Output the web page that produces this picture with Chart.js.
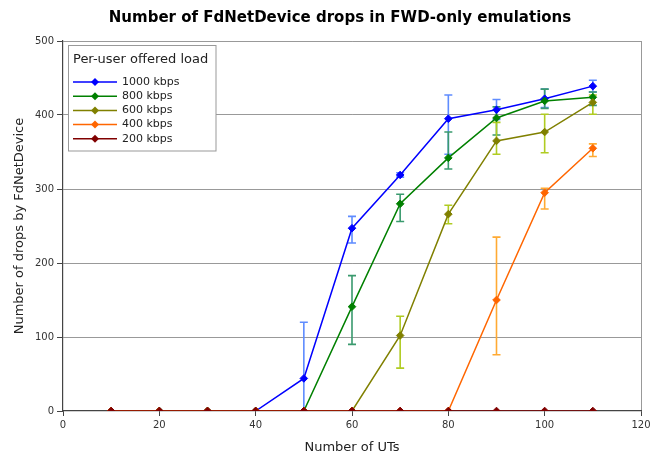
<!DOCTYPE html>
<html>
<head>
<meta charset="utf-8">
<script src="https://cdn.jsdelivr.net/npm/chart.js@4"></script>
<style>
  html, body { margin: 0; padding: 0; background: #fff; }
  #wrap { width: 665px; height: 456px; }
</style>
</head>
<body>
<div id="wrap"><canvas id="drops" width="665" height="456"></canvas></div>
<script>
const chartTitle = 'Number of FdNetDevice drops in FWD-only emulations';
const legendTitle = 'Per-user offered load';
const utCounts = [10, 20, 30, 40, 50, 60, 70, 80, 90, 100, 110];
const loadLabels = ['1000 kbps', '800 kbps', '600 kbps', '400 kbps', '200 kbps'];

// mean drops per offered load
const drops1000 = [0, 0, 0, 0, 44, 247, 319, 395, 407, 422, 439];
const drops800 = [0, 0, 0, 0, 0, 141, 280, 342, 396, 419, 424];
const drops600 = [0, 0, 0, 0, 0, 0, 102, 266, 365, 377, 417];
const drops400 = [0, 0, 0, 0, 0, 0, 0, 0, 150, 295, 355];
const drops200 = [0, 0, 0, 0, 0, 0, 0, 0, 0, 0, 0];

// error bar bounds (null = no bar)
const low1000 = [null, null, null, null, 0, 227, 316, 347, 394, 410, 431];
const high1000 = [null, null, null, null, 120, 263, 322, 427, 421, 435, 447];
const low800 = [null, null, null, null, null, 90, 256, 327, 373, 409, 413];
const high800 = [null, null, null, null, null, 183, 293, 377, 411, 435, 431];
const low600 = [null, null, null, null, null, null, 58, 253, 347, 349, 401];
const high600 = [null, null, null, null, null, null, 128, 278, 390, 401, 427];
const low400 = [null, null, null, null, null, null, null, null, 76, 273, 344];
const high400 = [null, null, null, null, null, null, null, null, 235, 301, 361];

const lineColors = ['#0000ff', '#008000', '#808000', '#ff6600', '#800000'];
const errColors = ['#5f8cff', '#3a9a6e', '#b0cc22', '#ffaa33', '#800000'];

const allDrops = [drops1000, drops800, drops600, drops400, drops200];
const allLow = [low1000, low800, low600, low400, null];
const allHigh = [high1000, high800, high600, high400, null];

const datasets = allDrops.map((vals, i) => ({
    label: loadLabels[i],
    data: utCounts.map((x, j) => ({ x: x, y: vals[j] })),
    borderColor: lineColors[i],
    backgroundColor: lineColors[i],
    borderWidth: 1.5,
    pointStyle: 'rectRot',
    pointRadius: 3.8,
    pointBorderWidth: 1,
    tension: 0,
    order: 4 - i,
    errLow: allLow[i],
    errHigh: allHigh[i]
}));

// vertical error bars with caps, drawn under the lines
const errorBars = {
    id: 'errorBars',
    beforeDatasetsDraw(chart) {
        const ctx = chart.ctx;
        const xs = chart.scales.x, ys = chart.scales.y;
        const area = chart.chartArea;
        ctx.save();
        ctx.beginPath();
        ctx.rect(area.left, area.top - 10, area.right - area.left, area.bottom - area.top + 10);
        ctx.clip();
        chart.data.datasets.forEach((ds, i) => {
            if (!ds.errLow) return;
            ctx.strokeStyle = errColors[i];
            ctx.lineWidth = 1.6;
            utCounts.forEach((x, j) => {
                if (ds.errLow[j] === null) return;
                const px = xs.getPixelForValue(x);
                const pl = ys.getPixelForValue(ds.errLow[j]);
                const ph = ys.getPixelForValue(ds.errHigh[j]);
                ctx.beginPath();
                ctx.moveTo(px, pl); ctx.lineTo(px, ph);
                ctx.moveTo(px - 4, ph); ctx.lineTo(px + 4, ph);
                ctx.moveTo(px - 4, pl); ctx.lineTo(px + 4, pl);
                ctx.stroke();
            });
        });
        ctx.restore();
    }
};

// chart title and boxed legend inside the plot area
const decorations = {
    id: 'decorations',
    afterDraw(chart) {
        const ctx = chart.ctx;
        ctx.save();
        ctx.fillStyle = '#000';
        ctx.font = 'bold 15px "DejaVu Sans"';
        ctx.textAlign = 'center';
        ctx.textBaseline = 'middle';
        ctx.fillText(chartTitle, 340, 18);

        ctx.fillStyle = '#fff';
        ctx.fillRect(68.5, 45.5, 147.5, 105.5);
        ctx.strokeStyle = '#999';
        ctx.lineWidth = 1;
        ctx.strokeRect(68.5, 45.5, 147.5, 105.5);

        ctx.fillStyle = '#222';
        ctx.textAlign = 'left';
        ctx.font = '13px "DejaVu Sans"';
        ctx.fillText(legendTitle, 73, 60);

        ctx.font = '11px "DejaVu Sans"';
        chart.data.datasets.forEach((ds, i) => {
            const y = 82 + i * 14.2;
            ctx.strokeStyle = lineColors[i];
            ctx.lineWidth = 1.5;
            ctx.beginPath();
            ctx.moveTo(73, y); ctx.lineTo(117, y);
            ctx.stroke();
            ctx.fillStyle = lineColors[i];
            ctx.beginPath();
            ctx.moveTo(95, y - 4); ctx.lineTo(99, y); ctx.lineTo(95, y + 4); ctx.lineTo(91, y);
            ctx.closePath();
            ctx.fill();
            ctx.fillStyle = '#222';
            ctx.fillText(ds.label, 122, y);
        });
        ctx.restore();
    }
};

new Chart(document.getElementById('drops'), {
    type: 'line',
    data: { datasets: datasets },
    options: {
        responsive: false,
        animation: false,
        layout: { padding: { top: 41, right: 24, left: 0, bottom: 0 } },
        plugins: {
            legend: { display: false },
            title: { display: false },
            tooltip: { enabled: false }
        },
        scales: {
            x: {
                type: 'linear',
                min: 0,
                max: 120,
                afterFit: (s) => { s.height = 45; },
                ticks: { stepSize: 20, color: '#333', padding: 3, font: { family: 'DejaVu Sans', size: 10 } },
                grid: {
                    color: (c) => (c.tick && c.tick.value === 120 ? '#999' : 'rgba(0,0,0,0)'),
                    tickColor: '#444',
                    tickLength: 5,
                    lineWidth: 1
                },
                border: { color: '#444', width: 1.2 },
                title: {
                    display: true,
                    text: 'Number of UTs',
                    color: '#222',
                    padding: { top: 0, bottom: 1 },
                    font: { family: 'DejaVu Sans', size: 13 }
                }
            },
            y: {
                min: 0,
                max: 500,
                afterFit: (s) => { s.width = 63; },
                ticks: { stepSize: 100, color: '#333', padding: 3, font: { family: 'DejaVu Sans', size: 10 } },
                grid: {
                    color: (c) => (c.tick && c.tick.value === 0 ? 'rgba(0,0,0,0)' : '#999'),
                    tickColor: '#444',
                    tickLength: 6,
                    lineWidth: 1
                },
                border: { color: '#444', width: 1.2 },
                title: {
                    display: true,
                    text: 'Number of drops by FdNetDevice',
                    color: '#222',
                    padding: { top: 12, bottom: 0 },
                    font: { family: 'DejaVu Sans', size: 13 }
                }
            }
        }
    },
    plugins: [errorBars, decorations]
});
</script>
</body>
</html>
